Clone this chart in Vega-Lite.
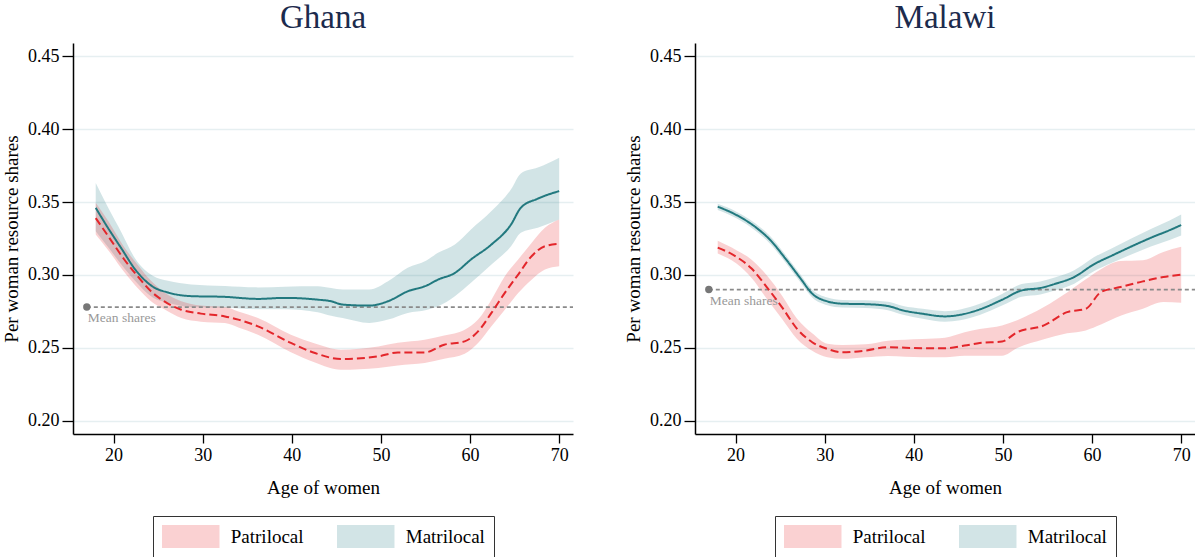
{
  "$schema": "https://vega.github.io/schema/vega-lite/v6.json",
  "padding": {"left": 2, "top": 2, "right": 0, "bottom": 0},
  "background": "white",
  "datasets": {
    "curves": [
      {"country":"Ghana","group":"Matrilocal","age":18,"share":0.346,"lo":0.330,"hi":0.363},
      {"country":"Ghana","group":"Matrilocal","age":19.4,"share":0.332,"lo":0.319,"hi":0.346},
      {"country":"Ghana","group":"Matrilocal","age":20.9,"share":0.318,"lo":0.307,"hi":0.329},
      {"country":"Ghana","group":"Matrilocal","age":22.4,"share":0.304,"lo":0.296,"hi":0.3115},
      {"country":"Ghana","group":"Matrilocal","age":24.4,"share":0.292,"lo":0.2845,"hi":0.2995},
      {"country":"Ghana","group":"Matrilocal","age":26.1,"share":0.288,"lo":0.281,"hi":0.296},
      {"country":"Ghana","group":"Matrilocal","age":28.7,"share":0.2855,"lo":0.278,"hi":0.2935},
      {"country":"Ghana","group":"Matrilocal","age":32.5,"share":0.285,"lo":0.2775,"hi":0.2925},
      {"country":"Ghana","group":"Matrilocal","age":36.2,"share":0.2836,"lo":0.2765,"hi":0.2915},
      {"country":"Ghana","group":"Matrilocal","age":39.2,"share":0.2843,"lo":0.2765,"hi":0.292},
      {"country":"Ghana","group":"Matrilocal","age":42.9,"share":0.2831,"lo":0.2745,"hi":0.2922},
      {"country":"Ghana","group":"Matrilocal","age":44.4,"share":0.282,"lo":0.272,"hi":0.291},
      {"country":"Ghana","group":"Matrilocal","age":45.7,"share":0.2797,"lo":0.2705,"hi":0.290},
      {"country":"Ghana","group":"Matrilocal","age":48.7,"share":0.279,"lo":0.2671,"hi":0.290},
      {"country":"Ghana","group":"Matrilocal","age":50.8,"share":0.282,"lo":0.2694,"hi":0.2957},
      {"country":"Ghana","group":"Matrilocal","age":53.0,"share":0.2888,"lo":0.274,"hi":0.3049},
      {"country":"Ghana","group":"Matrilocal","age":55.1,"share":0.2927,"lo":0.276,"hi":0.310},
      {"country":"Ghana","group":"Matrilocal","age":56.4,"share":0.2968,"lo":0.2785,"hi":0.3152},
      {"country":"Ghana","group":"Matrilocal","age":58.3,"share":0.3014,"lo":0.2854,"hi":0.3209},
      {"country":"Ghana","group":"Matrilocal","age":60.1,"share":0.3106,"lo":0.2946,"hi":0.3312},
      {"country":"Ghana","group":"Matrilocal","age":62.4,"share":0.3209,"lo":0.3071,"hi":0.3438},
      {"country":"Ghana","group":"Matrilocal","age":64.6,"share":0.3346,"lo":0.3197,"hi":0.3587},
      {"country":"Ghana","group":"Matrilocal","age":65.7,"share":0.3461,"lo":0.3289,"hi":0.3696},
      {"country":"Ghana","group":"Matrilocal","age":67.6,"share":0.3523,"lo":0.3323,"hi":0.3736},
      {"country":"Ghana","group":"Matrilocal","age":70.0,"share":0.3575,"lo":0.338,"hi":0.3804},

      {"country":"Ghana","group":"Patrilocal","age":18,"share":0.339,"lo":0.3277,"hi":0.3495},
      {"country":"Ghana","group":"Patrilocal","age":19.4,"share":0.3266,"lo":0.317,"hi":0.337},
      {"country":"Ghana","group":"Patrilocal","age":21.2,"share":0.3106,"lo":0.302,"hi":0.319},
      {"country":"Ghana","group":"Patrilocal","age":22.7,"share":0.2991,"lo":0.291,"hi":0.307},
      {"country":"Ghana","group":"Patrilocal","age":24.2,"share":0.2888,"lo":0.282,"hi":0.296},
      {"country":"Ghana","group":"Patrilocal","age":25.7,"share":0.2819,"lo":0.2765,"hi":0.288},
      {"country":"Ghana","group":"Patrilocal","age":27.6,"share":0.2762,"lo":0.2705,"hi":0.282},
      {"country":"Ghana","group":"Patrilocal","age":29.8,"share":0.2735,"lo":0.268,"hi":0.279},
      {"country":"Ghana","group":"Patrilocal","age":32.5,"share":0.2716,"lo":0.267,"hi":0.278},
      {"country":"Ghana","group":"Patrilocal","age":34.0,"share":0.2694,"lo":0.264,"hi":0.275},
      {"country":"Ghana","group":"Patrilocal","age":36.2,"share":0.2648,"lo":0.259,"hi":0.2705},
      {"country":"Ghana","group":"Patrilocal","age":39.9,"share":0.2534,"lo":0.247,"hi":0.259},
      {"country":"Ghana","group":"Patrilocal","age":42.6,"share":0.2465,"lo":0.240,"hi":0.253},
      {"country":"Ghana","group":"Patrilocal","age":45.5,"share":0.2424,"lo":0.235,"hi":0.2488},
      {"country":"Ghana","group":"Patrilocal","age":49.7,"share":0.2442,"lo":0.2362,"hi":0.251},
      {"country":"Ghana","group":"Patrilocal","age":51.9,"share":0.2469,"lo":0.238,"hi":0.2535},
      {"country":"Ghana","group":"Patrilocal","age":54.9,"share":0.2469,"lo":0.2396,"hi":0.2556},
      {"country":"Ghana","group":"Patrilocal","age":57.1,"share":0.2522,"lo":0.2425,"hi":0.2585},
      {"country":"Ghana","group":"Patrilocal","age":59.4,"share":0.2545,"lo":0.246,"hi":0.2625},
      {"country":"Ghana","group":"Patrilocal","age":60.9,"share":0.2613,"lo":0.2534,"hi":0.2694},
      {"country":"Ghana","group":"Patrilocal","age":62.4,"share":0.274,"lo":0.2648,"hi":0.2831},
      {"country":"Ghana","group":"Patrilocal","age":63.9,"share":0.2877,"lo":0.2762,"hi":0.2991},
      {"country":"Ghana","group":"Patrilocal","age":65.4,"share":0.3003,"lo":0.2877,"hi":0.3106},
      {"country":"Ghana","group":"Patrilocal","age":66.9,"share":0.3128,"lo":0.2968,"hi":0.322},
      {"country":"Ghana","group":"Patrilocal","age":68.4,"share":0.3197,"lo":0.3037,"hi":0.3323},
      {"country":"Ghana","group":"Patrilocal","age":70.0,"share":0.3214,"lo":0.306,"hi":0.338},

      {"country":"Malawi","group":"Matrilocal","age":18,"share":0.3468,"lo":0.3445,"hi":0.3488},
      {"country":"Malawi","group":"Matrilocal","age":20.1,"share":0.3411,"lo":0.3388,"hi":0.3434},
      {"country":"Malawi","group":"Matrilocal","age":22.2,"share":0.3330,"lo":0.3305,"hi":0.3355},
      {"country":"Malawi","group":"Matrilocal","age":23.9,"share":0.3239,"lo":0.3213,"hi":0.3265},
      {"country":"Malawi","group":"Matrilocal","age":25.6,"share":0.3112,"lo":0.3086,"hi":0.3138},
      {"country":"Malawi","group":"Matrilocal","age":27.3,"share":0.2975,"lo":0.2949,"hi":0.3001},
      {"country":"Malawi","group":"Matrilocal","age":28.6,"share":0.2872,"lo":0.2846,"hi":0.2898},
      {"country":"Malawi","group":"Matrilocal","age":30.3,"share":0.2819,"lo":0.2793,"hi":0.2845},
      {"country":"Malawi","group":"Matrilocal","age":32.0,"share":0.2803,"lo":0.2777,"hi":0.2829},
      {"country":"Malawi","group":"Matrilocal","age":34.6,"share":0.2800,"lo":0.2773,"hi":0.2827},
      {"country":"Malawi","group":"Matrilocal","age":37.1,"share":0.2787,"lo":0.2758,"hi":0.2816},
      {"country":"Malawi","group":"Matrilocal","age":38.8,"share":0.2757,"lo":0.2727,"hi":0.2787},
      {"country":"Malawi","group":"Matrilocal","age":41.0,"share":0.2734,"lo":0.2700,"hi":0.2768},
      {"country":"Malawi","group":"Matrilocal","age":43.5,"share":0.2716,"lo":0.2680,"hi":0.2752},
      {"country":"Malawi","group":"Matrilocal","age":45.2,"share":0.2727,"lo":0.2690,"hi":0.2764},
      {"country":"Malawi","group":"Matrilocal","age":47.4,"share":0.2764,"lo":0.2726,"hi":0.2802},
      {"country":"Malawi","group":"Matrilocal","age":49.9,"share":0.2830,"lo":0.2790,"hi":0.2870},
      {"country":"Malawi","group":"Matrilocal","age":52.1,"share":0.2894,"lo":0.2850,"hi":0.2938},
      {"country":"Malawi","group":"Matrilocal","age":54.2,"share":0.2911,"lo":0.2866,"hi":0.2956},
      {"country":"Malawi","group":"Matrilocal","age":55.9,"share":0.2940,"lo":0.2895,"hi":0.2985},
      {"country":"Malawi","group":"Matrilocal","age":58.0,"share":0.2986,"lo":0.2940,"hi":0.3032},
      {"country":"Malawi","group":"Matrilocal","age":60.2,"share":0.3073,"lo":0.3025,"hi":0.3121},
      {"country":"Malawi","group":"Matrilocal","age":62.3,"share":0.3135,"lo":0.3085,"hi":0.3185},
      {"country":"Malawi","group":"Matrilocal","age":64.4,"share":0.3195,"lo":0.3140,"hi":0.3250},
      {"country":"Malawi","group":"Matrilocal","age":66.6,"share":0.3255,"lo":0.3195,"hi":0.3315},
      {"country":"Malawi","group":"Matrilocal","age":68.7,"share":0.3307,"lo":0.3240,"hi":0.3374},
      {"country":"Malawi","group":"Matrilocal","age":70.0,"share":0.3342,"lo":0.3270,"hi":0.3414},

      {"country":"Malawi","group":"Patrilocal","age":18,"share":0.3188,"lo":0.3147,"hi":0.3234},
      {"country":"Malawi","group":"Patrilocal","age":20.1,"share":0.3124,"lo":0.3078,"hi":0.317},
      {"country":"Malawi","group":"Patrilocal","age":21.8,"share":0.3044,"lo":0.2980,"hi":0.3105},
      {"country":"Malawi","group":"Patrilocal","age":23.5,"share":0.2917,"lo":0.2837,"hi":0.2998},
      {"country":"Malawi","group":"Patrilocal","age":25.2,"share":0.2780,"lo":0.2700,"hi":0.2860},
      {"country":"Malawi","group":"Patrilocal","age":26.9,"share":0.2631,"lo":0.2562,"hi":0.2700},
      {"country":"Malawi","group":"Patrilocal","age":28.6,"share":0.2539,"lo":0.2480,"hi":0.2600},
      {"country":"Malawi","group":"Patrilocal","age":30.3,"share":0.2493,"lo":0.2436,"hi":0.2528},
      {"country":"Malawi","group":"Patrilocal","age":32.0,"share":0.2470,"lo":0.2425,"hi":0.2520},
      {"country":"Malawi","group":"Patrilocal","age":34.6,"share":0.2482,"lo":0.2436,"hi":0.2525},
      {"country":"Malawi","group":"Patrilocal","age":37.1,"share":0.2505,"lo":0.2445,"hi":0.2550},
      {"country":"Malawi","group":"Patrilocal","age":41.0,"share":0.2498,"lo":0.2436,"hi":0.2562},
      {"country":"Malawi","group":"Patrilocal","age":43.5,"share":0.2498,"lo":0.2436,"hi":0.2570},
      {"country":"Malawi","group":"Patrilocal","age":45.7,"share":0.2516,"lo":0.2447,"hi":0.2608},
      {"country":"Malawi","group":"Patrilocal","age":47.4,"share":0.2534,"lo":0.2447,"hi":0.2630},
      {"country":"Malawi","group":"Patrilocal","age":49.9,"share":0.2544,"lo":0.2447,"hi":0.2654},
      {"country":"Malawi","group":"Patrilocal","age":51.6,"share":0.2608,"lo":0.2500,"hi":0.2690},
      {"country":"Malawi","group":"Patrilocal","age":54.6,"share":0.2654,"lo":0.2560,"hi":0.2780},
      {"country":"Malawi","group":"Patrilocal","age":57.2,"share":0.2745,"lo":0.2600,"hi":0.2880},
      {"country":"Malawi","group":"Patrilocal","age":59.3,"share":0.2768,"lo":0.2620,"hi":0.2970},
      {"country":"Malawi","group":"Patrilocal","age":61.0,"share":0.2883,"lo":0.2660,"hi":0.3040},
      {"country":"Malawi","group":"Patrilocal","age":63.2,"share":0.2917,"lo":0.2720,"hi":0.3095},
      {"country":"Malawi","group":"Patrilocal","age":65.7,"share":0.2956,"lo":0.2768,"hi":0.3101},
      {"country":"Malawi","group":"Patrilocal","age":68.0,"share":0.2986,"lo":0.2814,"hi":0.3158},
      {"country":"Malawi","group":"Patrilocal","age":70.0,"share":0.3002,"lo":0.2810,"hi":0.3193}
    ],
    "means": [
      {"country":"Ghana","age":17,"age_end":71.55,"share":0.278,"label":"Mean shares"},
      {"country":"Malawi","age":17,"age_end":71.55,"share":0.290,"label":"Mean shares"}
    ]
  },
  "spacing": 50,
  "hconcat": [
    {
      "title": {"text": "Ghana"},
      "width": 500,
      "height": 391,
      "layer": [
        {
          "data": {"name": "curves"},
          "transform": [{"filter": "datum.country === 'Ghana'"}],
          "mark": {"type": "area", "opacity": 0.2, "interpolate": "monotone"},
          "encoding": {
            "x": {"field": "age", "type": "quantitative", "scale": {"domain": [15.45, 71.55], "nice": false, "zero": false}, "axis": {"values": [20, 30, 40, 50, 60, 70]}, "title": "Age of women"},
            "y": {"field": "lo", "type": "quantitative", "scale": {"domain": [0.191, 0.459], "nice": false, "zero": false}, "axis": {"values": [0.2, 0.25, 0.3, 0.35, 0.4, 0.45], "format": ".2f"}, "title": "Per woman resource shares"},
            "y2": {"field": "hi"},
            "fill": {"field": "group", "type": "nominal", "scale": {"domain": ["Patrilocal", "Matrilocal"], "range": ["#e41a1c", "#1f7a80"]}, "legend": {"title": null, "symbolOpacity": 0.2}}
          }
        },
        {
          "data": {"name": "means"},
          "transform": [{"filter": "datum.country === 'Ghana'"}],
          "mark": {"type": "rule", "color": "#8a8a8a", "strokeWidth": 1.8, "strokeDash": [4, 3]},
          "encoding": {
            "x": {"field": "age", "type": "quantitative"},
            "x2": {"field": "age_end"},
            "y": {"field": "share", "type": "quantitative"}
          }
        },
        {
          "data": {"name": "means"},
          "transform": [{"filter": "datum.country === 'Ghana'"}],
          "mark": {"type": "point", "filled": true, "color": "#777777", "size": 55, "opacity": 1},
          "encoding": {
            "x": {"field": "age", "type": "quantitative"},
            "y": {"field": "share", "type": "quantitative"}
          }
        },
        {
          "data": {"name": "means"},
          "transform": [{"filter": "datum.country === 'Ghana'"}],
          "mark": {"type": "text", "align": "left", "baseline": "top", "dx": 1, "dy": 4, "color": "#999999", "fontSize": 13.5, "font": "Liberation Serif"},
          "encoding": {
            "x": {"field": "age", "type": "quantitative"},
            "y": {"field": "share", "type": "quantitative"},
            "text": {"field": "label"}
          }
        },
        {
          "data": {"name": "curves"},
          "transform": [{"filter": "datum.country === 'Ghana'"}],
          "mark": {"type": "line", "strokeWidth": 2, "interpolate": "monotone"},
          "encoding": {
            "x": {"field": "age", "type": "quantitative"},
            "y": {"field": "share", "type": "quantitative"},
            "stroke": {"field": "group", "type": "nominal", "scale": {"domain": ["Patrilocal", "Matrilocal"], "range": ["#e3262b", "#22797f"]}, "legend": null},
            "strokeDash": {"field": "group", "type": "nominal", "scale": {"domain": ["Patrilocal", "Matrilocal"], "range": [[8, 4], [1, 0]]}, "legend": null}
          }
        }
      ]
    },
    {
      "title": {"text": "Malawi"},
      "width": 500,
      "height": 391,
      "layer": [
        {
          "data": {"name": "curves"},
          "transform": [{"filter": "datum.country === 'Malawi'"}],
          "mark": {"type": "area", "opacity": 0.2, "interpolate": "monotone"},
          "encoding": {
            "x": {"field": "age", "type": "quantitative", "scale": {"domain": [15.45, 71.55], "nice": false, "zero": false}, "axis": {"values": [20, 30, 40, 50, 60, 70]}, "title": "Age of women"},
            "y": {"field": "lo", "type": "quantitative", "scale": {"domain": [0.191, 0.459], "nice": false, "zero": false}, "axis": {"values": [0.2, 0.25, 0.3, 0.35, 0.4, 0.45], "format": ".2f"}, "title": "Per woman resource shares"},
            "y2": {"field": "hi"},
            "fill": {"field": "group", "type": "nominal", "scale": {"domain": ["Patrilocal", "Matrilocal"], "range": ["#e41a1c", "#1f7a80"]}, "legend": {"title": null, "symbolOpacity": 0.2}}
          }
        },
        {
          "data": {"name": "means"},
          "transform": [{"filter": "datum.country === 'Malawi'"}],
          "mark": {"type": "rule", "color": "#8a8a8a", "strokeWidth": 1.8, "strokeDash": [4, 3]},
          "encoding": {
            "x": {"field": "age", "type": "quantitative"},
            "x2": {"field": "age_end"},
            "y": {"field": "share", "type": "quantitative"}
          }
        },
        {
          "data": {"name": "means"},
          "transform": [{"filter": "datum.country === 'Malawi'"}],
          "mark": {"type": "point", "filled": true, "color": "#777777", "size": 55, "opacity": 1},
          "encoding": {
            "x": {"field": "age", "type": "quantitative"},
            "y": {"field": "share", "type": "quantitative"}
          }
        },
        {
          "data": {"name": "means"},
          "transform": [{"filter": "datum.country === 'Malawi'"}],
          "mark": {"type": "text", "align": "left", "baseline": "top", "dx": 1, "dy": 4, "color": "#999999", "fontSize": 13.5, "font": "Liberation Serif"},
          "encoding": {
            "x": {"field": "age", "type": "quantitative"},
            "y": {"field": "share", "type": "quantitative"},
            "text": {"field": "label"}
          }
        },
        {
          "data": {"name": "curves"},
          "transform": [{"filter": "datum.country === 'Malawi'"}],
          "mark": {"type": "line", "strokeWidth": 2, "interpolate": "monotone"},
          "encoding": {
            "x": {"field": "age", "type": "quantitative"},
            "y": {"field": "share", "type": "quantitative"},
            "stroke": {"field": "group", "type": "nominal", "scale": {"domain": ["Patrilocal", "Matrilocal"], "range": ["#e3262b", "#22797f"]}, "legend": null},
            "strokeDash": {"field": "group", "type": "nominal", "scale": {"domain": ["Patrilocal", "Matrilocal"], "range": [[8, 4], [1, 0]]}, "legend": null}
          }
        }
      ]
    }
  ],
  "resolve": {
    "scale": {"fill": "independent", "stroke": "independent", "strokeDash": "independent", "x": "independent", "y": "independent"},
    "legend": {"fill": "independent"}
  },
  "config": {
    "font": "Liberation Serif",
    "view": {"stroke": null},
    "axis": {
      "labelFont": "Liberation Serif",
      "labelFontSize": 18,
      "labelColor": "#000000",
      "titleFont": "Liberation Serif",
      "titleFontSize": 19,
      "titleFontWeight": "normal",
      "titleColor": "#000000",
      "domainColor": "#000000",
      "domainWidth": 1.5,
      "tickColor": "#000000",
      "tickWidth": 1.3,
      "gridColor": "#e6eff1",
      "gridWidth": 1.5
    },
    "axisX": {"grid": false, "tickSize": 9, "labelPadding": 3, "titlePadding": 14},
    "axisY": {"grid": true, "tickSize": 11, "labelPadding": 3, "titlePadding": 6},
    "title": {"font": "Liberation Serif", "fontSize": 33, "fontWeight": "normal", "color": "#1c2b4d", "offset": 8, "frame": "group", "anchor": "middle"},
    "legend": {
      "orient": "bottom",
      "direction": "horizontal",
      "layout": {"bottom": {"anchor": "middle"}},
      "strokeColor": "#333333",
      "padding": 9,
      "symbolType": "M-2.5,-1H2.5V1H-2.5Z",
      "symbolSize": 529,
      "symbolOffset": 17.25,
      "symbolStrokeWidth": 0,
      "labelFont": "Liberation Serif",
      "labelFontSize": 19,
      "labelColor": "#000000",
      "labelOffset": 28.5,
      "columnPadding": 33,
      "offset": 19
    }
  }
}
